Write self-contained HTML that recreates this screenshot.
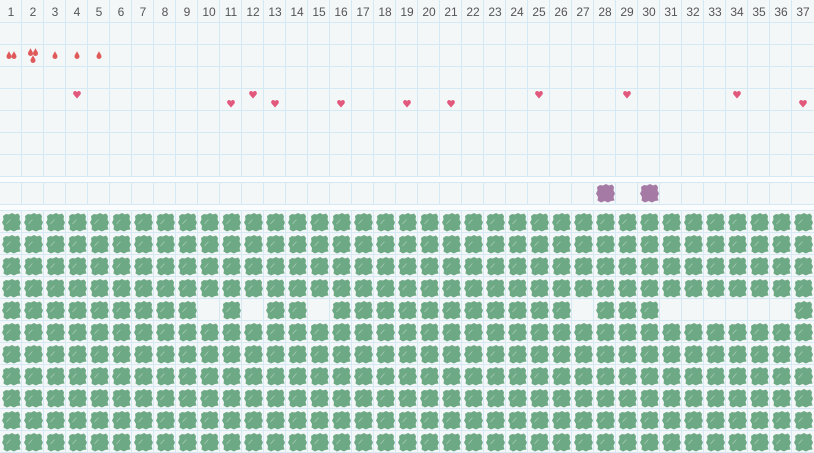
<!DOCTYPE html>
<html><head><meta charset="utf-8"><style>
html,body{margin:0;padding:0;background:#f3f7f8;}
svg{display:block;}
text{font-family:"Liberation Sans",sans-serif;font-size:12px;fill:#555;}
</style></head><body>
<svg width="814" height="453" viewBox="0 0 814 453" xmlns="http://www.w3.org/2000/svg">
<defs>
<pattern id="blob" patternUnits="userSpaceOnUse" x="0" y="211" width="22" height="22">
<path d="M3,5 L6,3 L9,3.5 L12,2 L15,3.5 L18,2.5 L20,5 L19.5,8.5 L21,11.5 L19.5,15 L20.5,18.5 L17,19 L14,20.5 L10.5,19 L7,20.5 L3.5,18.5 L4,15 L2,11.5 L3.5,8.5 Z" fill="#6ea985"/>
<line x1="6.5" y1="13" x2="10.5" y2="8.5" stroke="#a3cbb2" stroke-width="0.8"/>
</pattern>
<path id="pb" d="M3,5 L6,3 L9,3.5 L12,2 L15,3.5 L18,2.5 L20,5 L19.5,8.5 L21,11.5 L19.5,15 L20.5,18.5 L17,19 L14,20.5 L10.5,19 L7,20.5 L3.5,18.5 L4,15 L2,11.5 L3.5,8.5 Z" fill="#a57ba6"/>
<path id="ht" d="M4,7.5 L0.6,3.6 C-0.4,2.2 0.4,0 2.1,0 C3.1,0 3.8,0.7 4,1.4 C4.2,0.7 4.9,0 5.9,0 C7.6,0 8.4,2.2 7.4,3.6 Z" fill="#e2587c"/>
<path id="dp" d="M2.5,0 C3,2 5,3.6 5,5.5 A2.5,2.5 0 0 1 0,5.5 C0,3.6 2,2 2.5,0 Z" fill="#e05a5a"/>
</defs>
<rect x="0" y="0" width="814" height="453" fill="#f3f7f8"/>
<rect x="0" y="176" width="814" height="6" fill="#fafcfd"/>
<rect x="0" y="204" width="814" height="7" fill="#fafcfd"/>
<rect x="0" y="211" width="814" height="242" fill="url(#blob)"/>
<g fill="#f3f7f8">
<rect x="198" y="299" width="22" height="22"/>
<rect x="242" y="299" width="22" height="22"/>
<rect x="308" y="299" width="22" height="22"/>
<rect x="572" y="299" width="22" height="22"/>
<rect x="660" y="299" width="132" height="22"/>
</g>
<use href="#pb" x="594" y="182"/>
<use href="#pb" x="638" y="182"/>
<g stroke="#d4e9f3" stroke-width="1">
<path d="M21.5,0V176M43.5,0V176M65.5,0V176M87.5,0V176M109.5,0V176M131.5,0V176M153.5,0V176M175.5,0V176M197.5,0V176M219.5,0V176M241.5,0V176M263.5,0V176M285.5,0V176M307.5,0V176M329.5,0V176M351.5,0V176M373.5,0V176M395.5,0V176M417.5,0V176M439.5,0V176M461.5,0V176M483.5,0V176M505.5,0V176M527.5,0V176M549.5,0V176M571.5,0V176M593.5,0V176M615.5,0V176M637.5,0V176M659.5,0V176M681.5,0V176M703.5,0V176M725.5,0V176M747.5,0V176M769.5,0V176M791.5,0V176"/>
<path d="M21.5,182V204M43.5,182V204M65.5,182V204M87.5,182V204M109.5,182V204M131.5,182V204M153.5,182V204M175.5,182V204M197.5,182V204M219.5,182V204M241.5,182V204M263.5,182V204M285.5,182V204M307.5,182V204M329.5,182V204M351.5,182V204M373.5,182V204M395.5,182V204M417.5,182V204M439.5,182V204M461.5,182V204M483.5,182V204M505.5,182V204M527.5,182V204M549.5,182V204M571.5,182V204M593.5,182V204M615.5,182V204M637.5,182V204M659.5,182V204M681.5,182V204M703.5,182V204M725.5,182V204M747.5,182V204M769.5,182V204M791.5,182V204"/>
<path d="M21.5,210V453M43.5,210V453M65.5,210V453M87.5,210V453M109.5,210V453M131.5,210V453M153.5,210V453M175.5,210V453M197.5,210V453M219.5,210V453M241.5,210V453M263.5,210V453M285.5,210V453M307.5,210V453M329.5,210V453M351.5,210V453M373.5,210V453M395.5,210V453M417.5,210V453M439.5,210V453M461.5,210V453M483.5,210V453M505.5,210V453M527.5,210V453M549.5,210V453M571.5,210V453M593.5,210V453M615.5,210V453M637.5,210V453M659.5,210V453M681.5,210V453M703.5,210V453M725.5,210V453M747.5,210V453M769.5,210V453M791.5,210V453"/>
<path d="M0,22.5H814M0,44.5H814M0,66.5H814M0,88.5H814M0,110.5H814M0,132.5H814M0,154.5H814M0,176.5H814M0,182.5H814M0,204.5H814M0,210.5H814M0,232.5H814M0,254.5H814M0,276.5H814M0,298.5H814M0,320.5H814M0,342.5H814M0,364.5H814M0,386.5H814M0,408.5H814M0,430.5H814M0,452.5H814"/>
</g>
<g text-anchor="middle">
<text x="11" y="16">1</text><text x="33" y="16">2</text><text x="55" y="16">3</text><text x="77" y="16">4</text><text x="99" y="16">5</text><text x="121" y="16">6</text><text x="143" y="16">7</text><text x="165" y="16">8</text><text x="187" y="16">9</text><text x="209" y="16">10</text><text x="231" y="16">11</text><text x="253" y="16">12</text><text x="275" y="16">13</text><text x="297" y="16">14</text><text x="319" y="16">15</text><text x="341" y="16">16</text><text x="363" y="16">17</text><text x="385" y="16">18</text><text x="407" y="16">19</text><text x="429" y="16">20</text><text x="451" y="16">21</text><text x="473" y="16">22</text><text x="495" y="16">23</text><text x="517" y="16">24</text><text x="539" y="16">25</text><text x="561" y="16">26</text><text x="583" y="16">27</text><text x="605" y="16">28</text><text x="627" y="16">29</text><text x="649" y="16">30</text><text x="671" y="16">31</text><text x="693" y="16">32</text><text x="715" y="16">33</text><text x="737" y="16">34</text><text x="759" y="16">35</text><text x="781" y="16">36</text><text x="803" y="16">37</text>
</g>
<use href="#dp" x="6.5" y="51"/><use href="#dp" x="11.5" y="51"/>
<use href="#dp" x="28" y="48"/><use href="#dp" x="33" y="48"/><use href="#dp" x="30.5" y="55"/>
<use href="#dp" x="52.5" y="51"/>
<use href="#dp" x="74.5" y="51"/>
<use href="#dp" x="96.5" y="51"/>
<use href="#ht" x="73" y="91"/>
<use href="#ht" x="227" y="100"/>
<use href="#ht" x="249" y="91"/>
<use href="#ht" x="271" y="100"/>
<use href="#ht" x="337" y="100"/>
<use href="#ht" x="403" y="100"/>
<use href="#ht" x="447" y="100"/>
<use href="#ht" x="535" y="91"/>
<use href="#ht" x="623" y="91"/>
<use href="#ht" x="733" y="91"/>
<use href="#ht" x="799" y="100"/>
</svg>
</body></html>
